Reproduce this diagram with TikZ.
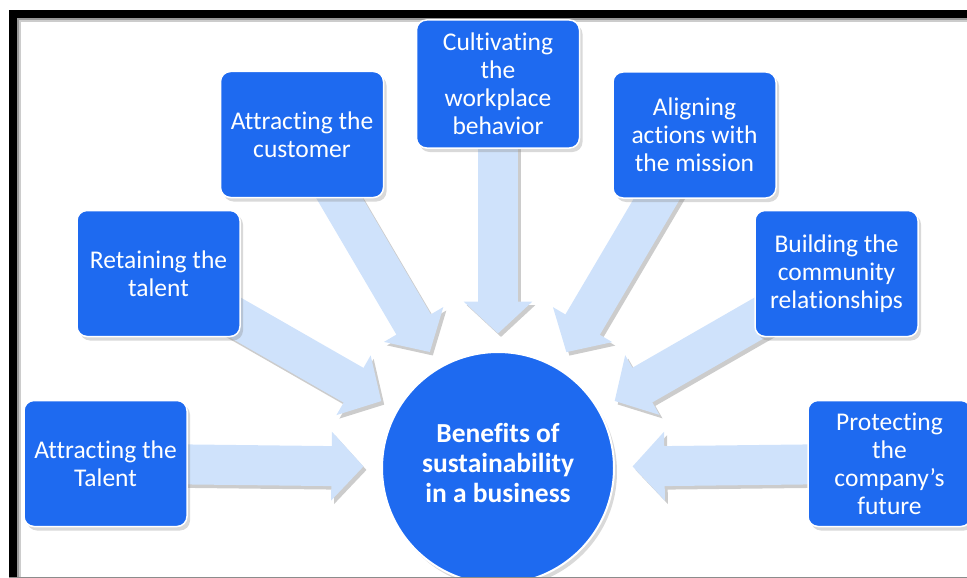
\documentclass[tikz,border=0pt]{standalone}
\usepackage{fontspec}
\setmainfont{Carlito}[Ligatures=NoCommon]
\usetikzlibrary{arrows.meta,shadows,backgrounds}
\definecolor{boxblue}{RGB}{30,106,240}
\definecolor{arrowblue}{RGB}{207,226,251}
\begin{document}
\begin{tikzpicture}[x=1pt,y=-1pt,
  box/.style={rectangle, rounded corners=10pt, fill=boxblue, draw=white, line width=1.5pt,
    minimum width=163pt, minimum height=126pt, inner sep=3pt, align=center, text=white,
    font=\fontsize{25.5}{28}\selectfont,
    drop shadow={shadow xshift=3pt, shadow yshift=-4pt, opacity=0.3}},
  hubstyle/.style={circle, fill=boxblue, draw=white, line width=2pt, minimum size=232pt, inner sep=0pt,
    drop shadow={shadow xshift=3pt, shadow yshift=-4pt, opacity=0.3}},
  hubtextstyle/.style={text=white, align=center, inner sep=0pt, font=\bfseries\fontsize{27.5}{30}\selectfont},
  flow/.style={draw=arrowblue, line width=40pt, -{Triangle[length=32pt,width=67pt]}, shorten >=17.5pt},
  flowshadow/.style={draw=black!20, line width=40pt, -{Triangle[length=32pt,width=67pt]}, shorten >=17.5pt,
    transform canvas={shift={(3pt,-3.5pt)}}}
]
\useasboundingbox (0,0) rectangle (967,578);

\node[box] (talent) at (105.5,463.5) {Attracting the\\Talent};
\node[box] (retain) at (158.5,273.5) {Retaining the\\talent};
\node[box] (customer) at (302,134.5) {Attracting the\\customer};
\node[box, minimum height=128pt] (cultivate) at (498,84) {Cultivating\\the\\workplace\\behavior};
\node[box] (align) at (694.5,135) {Aligning\\actions with\\the mission};
\node[box] (build) at (836.5,273.5) {Building the\\community\\relationships};
\node[box] (protect) at (889.5,463.5) {Protecting\\the\\company’s\\future};

\node[hubstyle] (hub) at (498,468) {};
\node[hubtextstyle] (hubtext) at (498,463) {Benefits of\\sustainability\\in a business};

\begin{scope}[on background layer]
  % frame
  \fill[black] (9,10) rectangle (967,18);
  \fill[black] (9,10) rectangle (17,578);
  \fill[black!40] (17,18) rectangle (967,20);
  \fill[black!20] (17,20) rectangle (967,22);
  \fill[black!40] (17,18) rectangle (19,578);
  \fill[black!20] (19,20) rectangle (21,578);
  % arrows
  \foreach \n in {talent,retain,customer,cultivate,align,build,protect}
    \draw[flowshadow] (\n.center) -- (hub);
  \foreach \n in {talent,retain,customer,cultivate,align,build,protect}
    \draw[flow] (\n.center) -- (hub);
\end{scope}

\fill[black!45] (9,576.5) rectangle (967,578);
\end{tikzpicture}
\end{document}
